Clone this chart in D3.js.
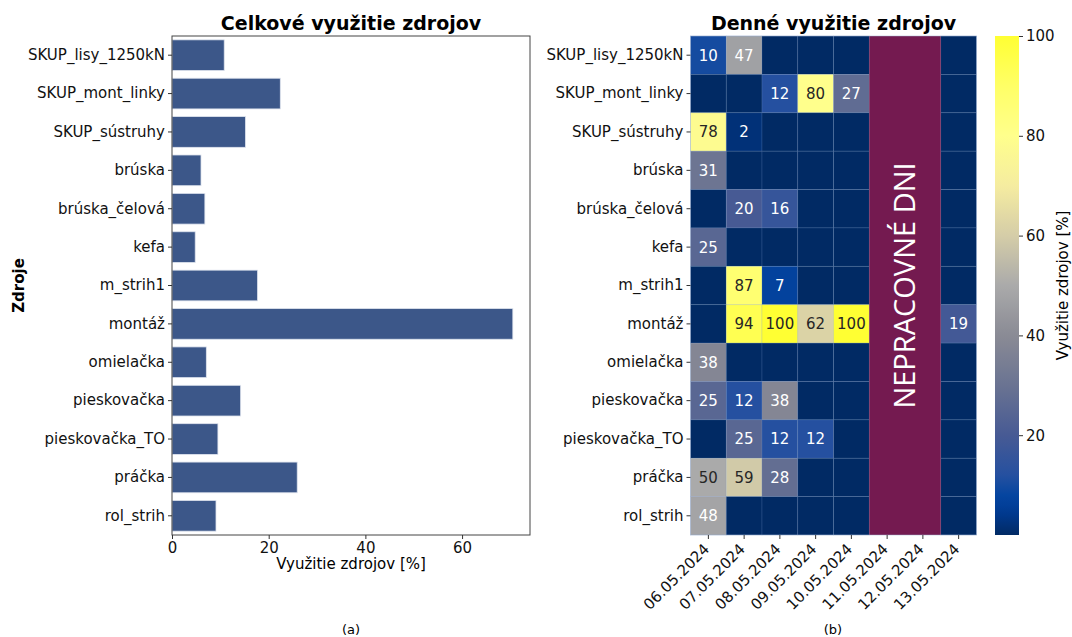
<!DOCTYPE html>
<html>
<head>
<meta charset="utf-8">
<script src="https://cdn.jsdelivr.net/npm/d3@7"></script>
<style>
  html, body { margin: 0; padding: 0; background: #fff; }
  svg { display: block; font-family: "DejaVu Sans", sans-serif; }
</style>
</head>
<body>
<svg id="chart" width="1072" height="637"></svg>
<script>
// ---------- DATA ----------
const resources = ["SKUP_lisy_1250kN", "SKUP_mont_linky", "SKUP_sústruhy", "brúska", "brúska_čelová", "kefa", "m_strih1", "montáž", "omielačka", "pieskovačka", "pieskovačka_TO", "práčka", "rol_strih"];
const totalUsage = [10.8, 22.4, 15.2, 6.0, 6.8, 4.8, 17.7, 70.5, 7.1, 14.2, 9.5, 25.9, 9.1];
const dates = ["06.05.2024", "07.05.2024", "08.05.2024", "09.05.2024", "10.05.2024", "11.05.2024", "12.05.2024", "13.05.2024"];
const nonWorkingDays = ["11.05.2024", "12.05.2024"];
// rows follow resources, columns follow dates (null = non-working day)
const dailyUsage = [
  [10, 47, 0, 0, 0, null, null, 0],
  [0, 0, 12, 80, 27, null, null, 0],
  [78, 2, 0, 0, 0, null, null, 0],
  [31, 0, 0, 0, 0, null, null, 0],
  [0, 20, 16, 0, 0, null, null, 0],
  [25, 0, 0, 0, 0, null, null, 0],
  [0, 87, 7, 0, 0, null, null, 0],
  [0, 94, 100, 62, 100, null, null, 19],
  [38, 0, 0, 0, 0, null, null, 0],
  [25, 12, 38, 0, 0, null, null, 0],
  [0, 25, 12, 12, 0, null, null, 0],
  [50, 59, 28, 0, 0, null, null, 0],
  [48, 0, 0, 0, 0, null, null, 0]
];
const barTicks = [0, 20, 40, 60];
const colorbarTicks = [20, 40, 60, 80, 100];
const colorStops = [0, 5, 8, 12, 20, 30, 40, 50, 60, 70, 80, 90, 100];
const colorStopColors = ["#012a64", "#003c96", "#0545a0", "#2550a0", "#475a94", "#6a7392", "#8a8b95", "#aaaaaa", "#d5cda8", "#f5eca0", "#ffff8c", "#ffff66", "#ffff33"];

// ---------- SETUP ----------
const svg = d3.select("#chart");
const FONT = "DejaVu Sans, sans-serif";

// ---------- LEFT BAR CHART ----------
const L = {left: 172, right: 530, top: 36, bottom: 535};
const xBar = d3.scaleLinear().domain([0, 74.05]).range([L.left, L.right]);
const yBar = d3.scaleBand().domain(resources).range([L.top, L.bottom]).paddingInner(0.2).paddingOuter(0.1);

const gL = svg.append("g");
gL.selectAll("rect.bar").data(resources).enter().append("rect")
  .attr("class", "bar")
  .attr("x", xBar(0))
  .attr("y", d => yBar(d))
  .attr("width", (d, i) => xBar(totalUsage[i]) - xBar(0))
  .attr("height", yBar.bandwidth())
  .attr("fill", "#3c5789")
  .attr("stroke", "#dfe4ee")
  .attr("stroke-width", 0.8);

// frame
gL.append("rect").attr("x", L.left).attr("y", L.top)
  .attr("width", L.right - L.left).attr("height", L.bottom - L.top)
  .attr("fill", "none").attr("stroke", "#444").attr("stroke-width", 1);

const axL = gL.append("g").attr("transform", `translate(${L.left},0)`)
  .call(d3.axisLeft(yBar).tickSize(4).tickPadding(3));
axL.select(".domain").remove();
axL.selectAll("text").attr("font-size", 15).attr("font-family", FONT).attr("fill", "#111");
axL.selectAll("line").attr("stroke", "#333");

const axB = gL.append("g").attr("transform", `translate(0,${L.bottom})`)
  .call(d3.axisBottom(xBar).tickValues(barTicks).tickFormat(d3.format("d")).tickSize(4).tickPadding(3));
axB.select(".domain").remove();
axB.selectAll("text").attr("font-size", 15).attr("font-family", FONT).attr("fill", "#111");
axB.selectAll("line").attr("stroke", "#333");

gL.append("text").attr("x", (L.left + L.right) / 2).attr("y", 30)
  .attr("text-anchor", "middle").attr("font-size", 19).attr("font-weight", "bold")
  .attr("font-family", FONT).text("Celkové využitie zdrojov");
gL.append("text").attr("x", (L.left + L.right) / 2).attr("y", 569)
  .attr("text-anchor", "middle").attr("font-size", 15).attr("font-family", FONT)
  .text("Využitie zdrojov [%]");
gL.append("text").attr("transform", `translate(24,${(L.top + L.bottom) / 2}) rotate(-90)`)
  .attr("text-anchor", "middle").attr("font-size", 15).attr("font-weight", "bold")
  .attr("font-family", FONT).text("Zdroje");
gL.append("text").attr("x", 351).attr("y", 634)
  .attr("text-anchor", "middle").attr("font-size", 13).attr("font-family", FONT).text("(a)");

// ---------- HEATMAP ----------
const H = {left: 690.5, right: 976.5, top: 36, bottom: 535};
const xH = d3.scaleBand().domain(dates).range([H.left, H.right]);
const yH = d3.scaleBand().domain(resources).range([H.top, H.bottom]);
const color = d3.scaleLinear().domain(colorStops).range(colorStopColors).interpolate(d3.interpolateRgb).clamp(true);

const cells = [];
resources.forEach((r, i) => dates.forEach((d, j) => {
  if (dailyUsage[i][j] !== null) cells.push({r, d, v: dailyUsage[i][j]});
}));

const gH = svg.append("g");
gH.selectAll("rect.cell").data(cells).enter().append("rect")
  .attr("x", d => xH(d.d)).attr("y", d => yH(d.r))
  .attr("width", xH.bandwidth()).attr("height", yH.bandwidth())
  .attr("fill", d => color(d.v))
  .attr("stroke", "rgba(120,150,200,0.25)").attr("stroke-width", 0.8);

function lum(c) {
  const rgb = d3.rgb(c);
  const f = v => { v /= 255; return v <= 0.03928 ? v / 12.92 : Math.pow((v + 0.055) / 1.055, 2.4); };
  return 0.2126 * f(rgb.r) + 0.7152 * f(rgb.g) + 0.0722 * f(rgb.b);
}
gH.selectAll("text.ann").data(cells.filter(c => c.v > 0)).enter().append("text")
  .attr("x", d => xH(d.d) + xH.bandwidth() / 2)
  .attr("y", d => yH(d.r) + yH.bandwidth() / 2)
  .attr("dy", "0.36em").attr("text-anchor", "middle")
  .attr("font-size", 15).attr("font-family", FONT)
  .attr("fill", d => lum(color(d.v)) > 0.4 ? "#262626" : "#ffffff")
  .text(d => d.v);

// non-working days band
const nwX0 = xH(nonWorkingDays[0]);
const nwX1 = xH(nonWorkingDays[nonWorkingDays.length - 1]) + xH.bandwidth();
gH.append("rect").attr("x", nwX0).attr("y", H.top).attr("width", nwX1 - nwX0).attr("height", H.bottom - H.top)
  .attr("fill", "#741a50");
gH.append("text").attr("transform", `translate(${(nwX0 + nwX1) / 2},${(H.top + H.bottom) / 2}) rotate(-90)`)
  .attr("text-anchor", "middle").attr("dy", "0.36em")
  .attr("font-size", 29).attr("font-family", "Open Sans, sans-serif").attr("fill", "#fff")
  .text("NEPRACOVNÉ DNI");

// thin light outline around heatmap
gH.append("rect").attr("x", H.left).attr("y", H.top)
  .attr("width", H.right - H.left).attr("height", H.bottom - H.top)
  .attr("fill", "none").attr("stroke", "rgba(160,180,210,0.6)").attr("stroke-width", 0.8);

const ayH = gH.append("g").attr("transform", `translate(${H.left},0)`)
  .call(d3.axisLeft(yH).tickSize(4).tickPadding(3));
ayH.select(".domain").remove();
ayH.selectAll("text").attr("font-size", 15).attr("font-family", FONT).attr("fill", "#111");
ayH.selectAll("line").attr("stroke", "#333");

const axH = gH.append("g").attr("transform", `translate(0,${H.bottom})`)
  .call(d3.axisBottom(xH).tickSize(4).tickPadding(3));
axH.select(".domain").remove();
axH.selectAll("line").attr("stroke", "#333");
axH.selectAll("text").attr("font-size", 15).attr("font-family", FONT).attr("fill", "#111")
  .attr("text-anchor", "end").attr("dy", null).attr("y", null)
  .attr("transform", "translate(2,15) rotate(-45)");

gH.append("text").attr("x", (H.left + H.right) / 2).attr("y", 30)
  .attr("text-anchor", "middle").attr("font-size", 19).attr("font-weight", "bold")
  .attr("font-family", FONT).text("Denné využitie zdrojov");
gH.append("text").attr("x", 833).attr("y", 634)
  .attr("text-anchor", "middle").attr("font-size", 13).attr("font-family", FONT).text("(b)");

// ---------- COLORBAR ----------
const CB = {left: 995, right: 1019, top: 36, bottom: 535};
const yCB = d3.scaleLinear().domain([0, 100]).range([CB.bottom, CB.top]);
const defs = svg.append("defs");
const grad = defs.append("linearGradient").attr("id", "cbgrad")
  .attr("x1", 0).attr("y1", 1).attr("x2", 0).attr("y2", 0);
d3.range(0, 101, 2).forEach(v => {
  grad.append("stop").attr("offset", (v / 100)).attr("stop-color", color(v));
});
svg.append("rect").attr("x", CB.left).attr("y", CB.top)
  .attr("width", CB.right - CB.left).attr("height", CB.bottom - CB.top)
  .attr("fill", "url(#cbgrad)");
const acb = svg.append("g").attr("transform", `translate(${CB.right},0)`)
  .call(d3.axisRight(yCB).tickValues(colorbarTicks).tickSize(4).tickPadding(3));
acb.select(".domain").remove();
acb.selectAll("text").attr("font-size", 15).attr("font-family", FONT).attr("fill", "#111");
acb.selectAll("line").attr("stroke", "#333");
svg.append("text").attr("transform", `translate(1068,${(CB.top + CB.bottom) / 2}) rotate(-90)`)
  .attr("text-anchor", "middle").attr("font-size", 15).attr("font-family", FONT)
  .text("Využitie zdrojov [%]");
</script>
</body>
</html>
